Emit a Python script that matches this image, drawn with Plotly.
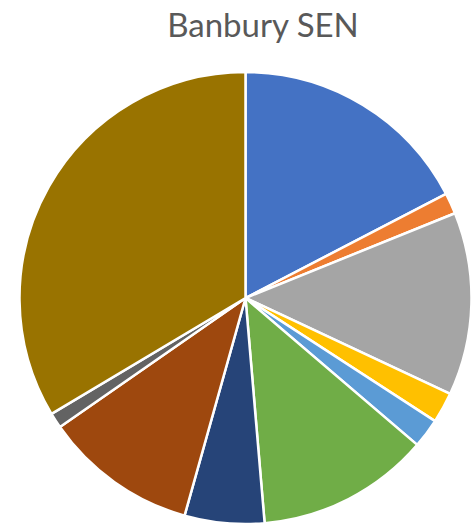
import plotly.graph_objects as go

categories = ["Category 1", "Category 2", "Category 3", "Category 4", "Category 5",
              "Category 6", "Category 7", "Category 8", "Category 9", "Category 10"]
values = [174, 15, 131, 22, 21, 124, 57, 110, 11, 336]
colors = ["#4472C4", "#ED7D31", "#A5A5A5", "#FFC000", "#5B9BD5",
          "#70AD47", "#264478", "#9E480E", "#636363", "#997300"]

W, H = 474, 526
cx, cy, r = 245.5, 298, 226

fig = go.Figure(go.Pie(
    labels=categories,
    values=values,
    sort=False,
    direction="clockwise",
    rotation=0,
    textinfo="none",
    hoverinfo="label+value+percent",
    marker=dict(colors=colors, line=dict(color="white", width=2.5)),
    domain=dict(x=[(cx - r) / W, (cx + r) / W],
                y=[(H - (cy + r)) / H, (H - (cy - r)) / H]),
    showlegend=False,
))

fig.update_layout(
    width=W, height=H,
    margin=dict(l=0, r=0, t=0, b=0),
    paper_bgcolor="white",
    title=dict(text="Banbury SEN", x=263 / W, xanchor="center",
               y=1 - 25 / H, yanchor="middle", yref="container", xref="paper",
               font=dict(family="Lato", size=33, color="#595959")),
)

fig.write_html("out.html",
               config={"displayModeBar": False},
               post_script="document.body.style.margin='0';document.body.style.overflow='hidden';")
